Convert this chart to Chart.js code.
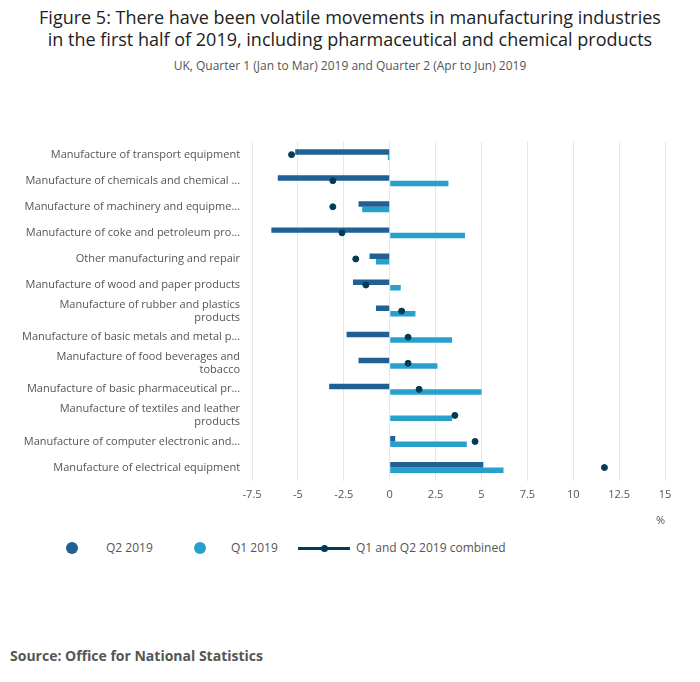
<!DOCTYPE html>
<html>
<head>
<meta charset="utf-8">
<script src="https://cdn.jsdelivr.net/npm/chart.js@4"></script>
<style>
  body { margin: 0; width: 700px; height: 682px; background: #fff; font-family: "Open Sans", sans-serif; position: relative; }
  h1 { position: absolute; top: 6px; left: 0; width: 700px; margin: 0; text-align: center; font-weight: normal; font-size: 18px; line-height: 22px; color: #222; }
  .sub { position: absolute; top: 57px; width: 700px; text-align: center; font-size: 12px; color: #555; }
  #wrap { position: absolute; left: 0; top: 131px; width: 690px; height: 400px; }
  .legend { position: absolute; top: 540px; left: 66px; font-size: 12px; color: #555; }
  .legend span { position: absolute; white-space: nowrap; top: 0; line-height: 16px; }
  .dot { width: 12px; height: 12px; border-radius: 50%; display: block; }
  .src { position: absolute; top: 646px; left: 10px; font-size: 14px; font-weight: bold; color: #555; }
</style>
</head>
<body>
<h1>Figure 5: There have been volatile movements in manufacturing industries<br>in the first half of 2019, including pharmaceutical and chemical products</h1>
<div class="sub">UK, Quarter 1 (Jan to Mar) 2019 and Quarter 2 (Apr to Jun) 2019</div>
<div id="wrap"><canvas id="c"></canvas></div>
<div class="legend">
  <span style="left:0;top:2px"><i class="dot" style="background:#206095"></i></span>
  <span style="left:40px">Q2 2019</span>
  <span style="left:128px;top:2px"><i class="dot" style="background:#27a0cc"></i></span>
  <span style="left:165px">Q1 2019</span>
  <span style="left:232px;top:7px;width:52px;height:3px;background:#003c57"></span>
  <span style="left:255px;top:5px"><i class="dot" style="background:#003c57;width:7px;height:7px"></i></span>
  <span style="left:290px">Q1 and Q2 2019 combined</span>
</div>
<div class="src">Source: Office for National Statistics</div>
<script>
const categories = [
  'Manufacture of transport equipment',
  'Manufacture of chemicals and chemical ...',
  'Manufacture of machinery and equipme...',
  'Manufacture of coke and petroleum pro...',
  'Other manufacturing and repair',
  'Manufacture of wood and paper products',
  ['Manufacture of rubber and plastics', 'products'],
  'Manufacture of basic metals and metal p...',
  ['Manufacture of food beverages and', 'tobacco'],
  'Manufacture of basic pharmaceutical pr...',
  ['Manufacture of textiles and leather', 'products'],
  'Manufacture of computer electronic and...',
  'Manufacture of electrical equipment'
];
const q2 = [-5.15, -6.1, -1.7, -6.45, -1.1, -2.0, -0.75, -2.35, -1.7, -3.3, 0, 0.3, 5.1];
const q1 = [-0.1, 3.2, -1.5, 4.1, -0.75, 0.6, 1.4, 3.4, 2.6, 5.0, 3.4, 4.2, 6.2];
const combined = [-5.35, -3.1, -3.1, -2.6, -1.85, -1.3, 0.65, 1.0, 1.0, 1.6, 3.55, 4.65, 11.7];
const xTicks = [-7.5, -5, -2.5, 0, 2.5, 5, 7.5, 10, 12.5, 15];

new Chart(document.getElementById('c'), {
  type: 'bar',
  data: {
    labels: categories,
    datasets: [
      { type: 'line', label: 'Q1 and Q2 2019 combined', data: combined, showLine: false,
        pointRadius: 3, pointBackgroundColor: '#003c57', pointBorderColor: '#003c57', order: 0 },
      { label: 'Q2 2019', data: q2, backgroundColor: '#206095', order: 1,
        barPercentage: 1, categoryPercentage: 0.42 },
      { label: 'Q1 2019', data: q1, backgroundColor: '#27a0cc', order: 1,
        barPercentage: 1, categoryPercentage: 0.42 }
    ]
  },
  options: {
    indexAxis: 'y',
    responsive: true,
    maintainAspectRatio: false,
    animation: false,
    layout: { padding: { left: 18, right: 25 } },
    plugins: { legend: { display: false }, tooltip: { enabled: false } },
    scales: {
      x: {
        min: -7.5, max: 15,
        afterBuildTicks: axis => { axis.ticks = xTicks.map(v => ({ value: v })); },
        grid: { color: '#e6e6e6', drawTicks: false },
        border: { display: false },
        ticks: { color: '#555', font: { family: 'Open Sans', size: 11 }, padding: 8,
          callback: v => String(v) },
        title: { display: true, text: '%', align: 'end', color: '#555', font: { family: 'Open Sans', size: 11 } }
      },
      y: {
        grid: { display: false, drawTicks: true, tickColor: '#ccccee', tickLength: 8 },
        border: { display: false },
        ticks: { color: '#555', font: { family: 'Open Sans', size: 11 }, padding: 4, autoSkip: false }
      }
    }
  }
});
</script>
</body>
</html>
